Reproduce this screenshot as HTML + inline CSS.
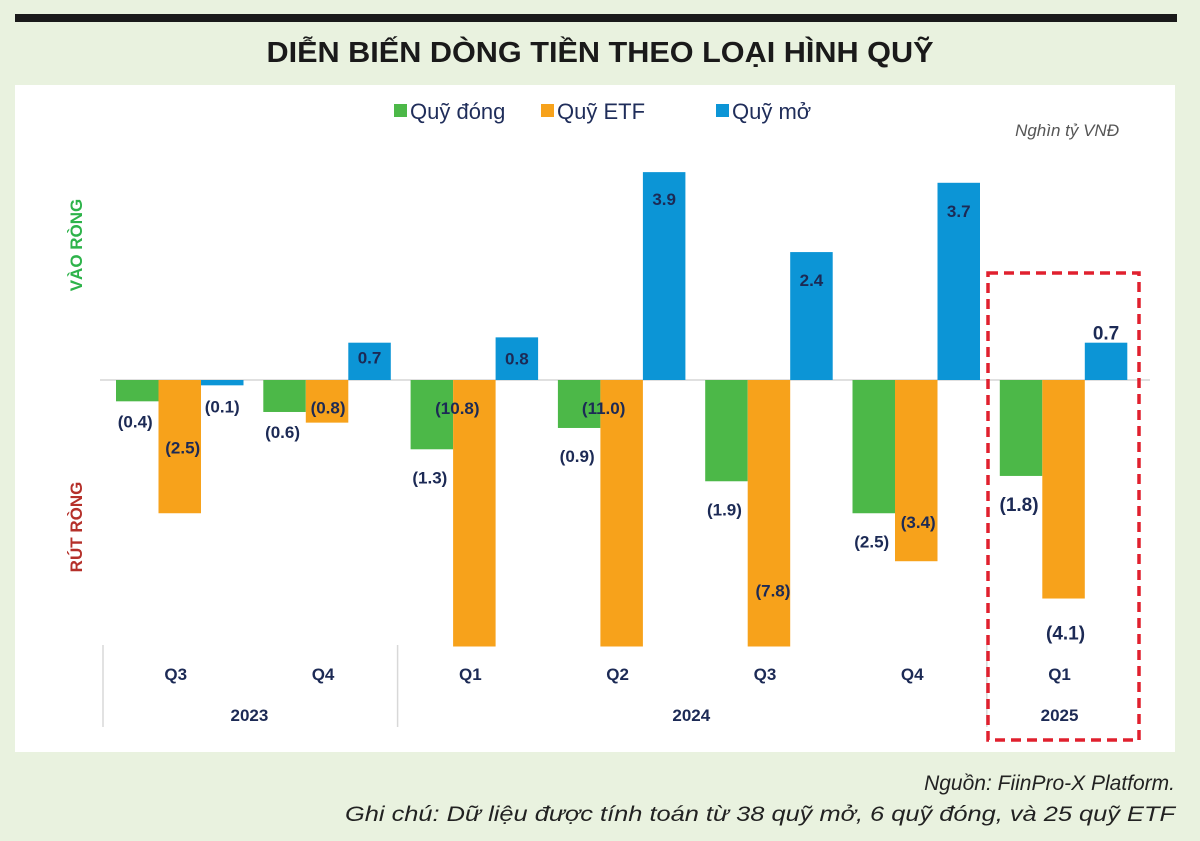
<!DOCTYPE html>
<html><head><meta charset="utf-8">
<style>
html,body{margin:0;padding:0;background:#e9f2df;}
svg{display:block;font-family:"Liberation Sans",sans-serif;}
</style></head>
<body>
<svg id="chart" width="1200" height="841" viewBox="0 0 1200 841">
  <rect x="0" y="0" width="1200" height="841" fill="#e9f2df"/>
  <rect x="15" y="14" width="1162" height="8" fill="#1a1a1a"/>
  <text x="600" y="62" text-anchor="middle" font-size="29" font-weight="bold" fill="#1a1a1a" textLength="667" lengthAdjust="spacingAndGlyphs">DIỄN BIẾN DÒNG TIỀN THEO LOẠI HÌNH QUỸ</text>
  <rect x="15" y="85" width="1160" height="667" fill="#ffffff"/>
  <g>
    <rect x="394" y="104" width="13" height="13" fill="#4cb848"/>
    <text x="410" y="119" font-size="22" fill="#1f2d5a">Quỹ đóng</text>
    <rect x="541" y="104" width="13" height="13" fill="#f7a21b"/>
    <text x="557" y="119" font-size="22" fill="#1f2d5a">Quỹ ETF</text>
    <rect x="716" y="104" width="13" height="13" fill="#0c95d6"/>
    <text x="732" y="119" font-size="22" fill="#1f2d5a">Quỹ mở</text>
  </g>
  <text x="1119" y="136" text-anchor="end" font-size="17" font-style="italic" fill="#555">Nghìn tỷ VNĐ</text>
  <text transform="translate(82,245) rotate(-90)" text-anchor="middle" font-size="17" font-weight="bold" fill="#2db34a">VÀO RÒNG</text>
  <text transform="translate(82,527) rotate(-90)" text-anchor="middle" font-size="17" font-weight="bold" fill="#b5302a">RÚT RÒNG</text>
  <line x1="100" y1="380" x2="1150" y2="380" stroke="#d5d5d5" stroke-width="1.5"/>
  <g id="bars"></g>
  <g id="xaxis"></g>
  <rect x="988" y="273" width="151" height="467" fill="none" stroke="#e0202e" stroke-width="3.5" stroke-dasharray="10,6"/>
  <text x="1175" y="790" text-anchor="end" font-size="21" font-style="italic" fill="#222">Nguồn: FiinPro-X Platform.</text>
  <text x="1175" y="821" text-anchor="end" font-size="21" font-style="italic" fill="#222" textLength="830" lengthAdjust="spacingAndGlyphs">Ghi chú: Dữ liệu được tính toán từ 38 quỹ mở, 6 quỹ đóng, và 25 quỹ ETF</text>
</svg>
<script>
const quarters = ["Q3","Q4","Q1","Q2","Q3","Q4","Q1"];
const years = ["2023","2024","2025"];
const yearSpans = [[0,1],[2,5],[6,6]];
const closedFund = [-0.4,-0.6,-1.3,-0.9,-1.9,-2.5,-1.8];
const etfFund = [-2.5,-0.8,-10.8,-11.0,-7.8,-3.4,-4.1];
const openFund = [-0.1,0.7,0.8,3.9,2.4,3.7,0.7];
const axisMin = -5.0; // bars clipped at plot bottom (broken axis)

const NS = "http://www.w3.org/2000/svg";
const zeroY = 380, pxPerUnit = 53.3, bottomY = zeroY - axisMin * pxPerUnit;
function yScale(v){ return Math.min(bottomY, zeroY - v * pxPerUnit); }
function xGroup(i){ return 116 + i * 147.3; }
const barW = 42.5;
const colors = ["#4cb848","#f7a21b","#0c95d6"];
const seriesNames = ["closed","etf","open"];
const series = [closedFund, etfFund, openFund];
// label style offsets (relative to bar end; "z" = relative to zero line)
const labelStyle = [
  [[-2,20],[-2,20],[-2,28],[-2,28],[-2,28],[-2,28],[-2,28]],
  [[3,-66],[1,-15],[-17,"z28"],[-18,"z28"],[4,-56],[2,-39],[2,34]],
  [[0,21],[0,15],[0,21],[0,27],[0,28],[0,28],[0,-10]]
];
const fmt = v => v < 0 ? "(" + Math.abs(v).toFixed(1) + ")" : v.toFixed(1);
const bars = document.getElementById("bars");
const xaxis = document.getElementById("xaxis");
function mk(tag, attrs, parent){ const e = document.createElementNS(NS, tag); for (const k in attrs) e.setAttribute(k, attrs[k]); parent.appendChild(e); return e; }

series.forEach((arr, s) => {
  arr.forEach((v, i) => {
    const x = xGroup(i) + s * barW;
    const yv = yScale(v);
    const r = mk("rect", {x: x, y: Math.min(zeroY, yv), width: barW, height: Math.abs(yv - zeroY), fill: colors[s]}, bars);
    
    
    const st = labelStyle[s][i];
    const big = i === 6;
    const cy = (typeof st[1] === "string") ? zeroY + parseFloat(st[1].slice(1)) : yv + st[1];
    const t = mk("text", {x: x + barW/2 + st[0], y: cy + (big ? 7 : 6), "text-anchor": "middle", "font-size": big ? 19 : 17, "font-weight": "bold", fill: "#1c2a55"}, bars);
    t.textContent = fmt(v);
    
    
  });
});

quarters.forEach((q, i) => {
  const t = mk("text", {x: xGroup(i) + barW*1.5 - 4, y: 680, "text-anchor": "middle", "font-size": 17, "font-weight": "bold", fill: "#1c2a55"}, xaxis);
  t.textContent = q;
  
  
});
yearSpans.forEach((sp, k) => {
  const cx = (xGroup(sp[0]) + xGroup(sp[1])) / 2 + barW*1.5 - 4;
  const t = mk("text", {x: cx, y: 721, "text-anchor": "middle", "font-size": 17, "font-weight": "bold", fill: "#1c2a55"}, xaxis);
  t.textContent = years[k];
  
  
});
[0, 2, 6].forEach((gi, k) => {
  const x = xGroup(gi) - 13;
  const l = mk("line", {x1: x, y1: 645, x2: x, y2: 727, stroke: "#d8d8d8", "stroke-width": 1.5}, xaxis);
  
  
});
</script>
</body></html>
